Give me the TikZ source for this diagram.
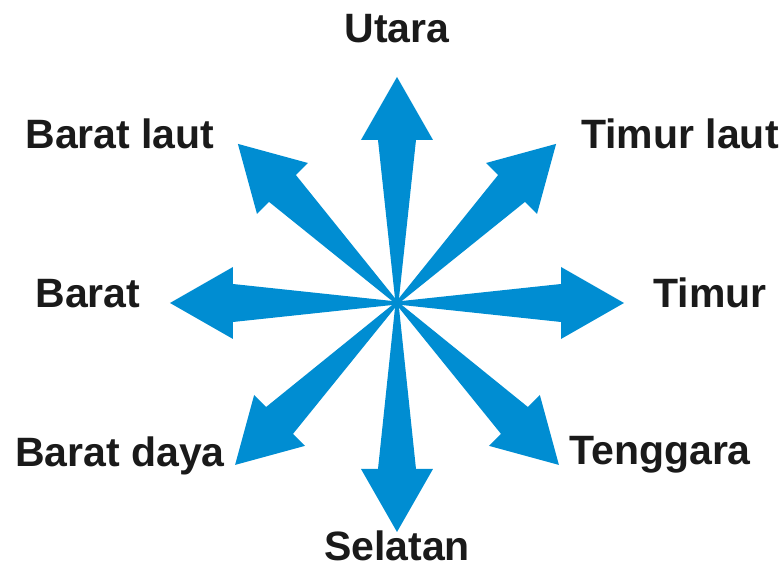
\documentclass[tikz,border=0pt]{standalone}
\usepackage{fontspec}
\setmainfont{Liberation Sans}
\usepackage{tikz}
\definecolor{birulaut}{RGB}{0,141,210}
\definecolor{hitamteks}{RGB}{26,26,26}

\begin{document}
\begin{tikzpicture}[x=1pt,y=1pt,%
		  arahteks/.style={anchor=base,inner sep=0pt,text=hitamteks,
		  font=\bfseries\fontsize{41}{48}\selectfont},
		  panah/.style={fill=birulaut,draw=none}]
		  \useasboundingbox (-397,-266) rectangle (385,303);
		  % delapan panah mata angin
		  \foreach \ang/\len in {0/227,45/225,90/226,135/225,180/227,225/229,270/229,315/229}
		    \fill[panah,rotate=\ang] (0,-1.5) -- (\len-63,-19) -- (\len-63,-36)
		      -- (\len,0) -- (\len-63,36) -- (\len-63,19) -- (0,1.5) -- cycle;
		  % nama arah
		  \node[arahteks] (utara) at (0,260) {Utara};
		  \node[arahteks] (timurlaut) at (283,154) {Timur laut};
		  \node[arahteks] (timur) at (313,-5) {Timur};
		  \node[arahteks] (tenggara) at (263,-162) {Tenggara};
		  \node[arahteks] (selatan) at (0,-258) {Selatan};
		  \node[arahteks] (baratdaya) at (-277,-164) {Barat daya};
		  \node[arahteks] (barat) at (-309,-5) {Barat};
		  \node[arahteks] (baratlaut) at (-277,154) {Barat laut};
\end{tikzpicture}
\end{document}
